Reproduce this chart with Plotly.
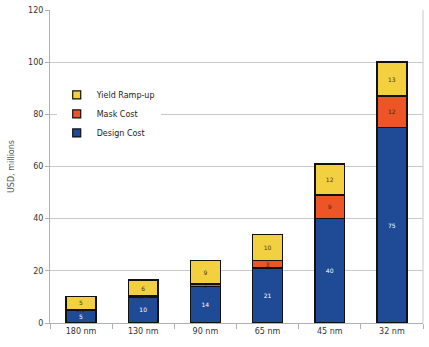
import plotly.graph_objects as go

# Process nodes and cost breakdown (USD, millions)
nodes = ["180 nm", "130 nm", "90 nm", "65 nm", "45 nm", "32 nm"]
design_cost = [5, 10, 14, 21, 40, 75]
mask_cost = [0.2, 0.4, 1, 3, 9, 12]
yield_rampup = [5, 6, 9, 10, 12, 13]

y_ticks = [0, 20, 40, 60, 80, 100, 120]

FONT = "DejaVu Sans"
series = [
    ("Design Cost", design_cost, "#1F4B96", "#ffffff"),
    ("Mask Cost", mask_cost, "#EE5526", "#3a2a10"),
    ("Yield Ramp-up", yield_rampup, "#F3D040", "#4a3a10"),
]

fig = go.Figure()
for name, vals, color, tcolor in series:
    fig.add_trace(go.Bar(
        name=name,
        x=nodes,
        y=vals,
        text=[f"{v:g}" for v in vals],
        textposition="inside",
        insidetextanchor="middle",
        textangle=0,
        constraintext="none",
        textfont=dict(size=6, color=tcolor, family=FONT),
        marker=dict(color=color, line=dict(color="#111111", width=1.5)),
        width=0.48,
        showlegend=False,
    ))

# legend keys: small outlined squares, listed top-down
for name, vals, color, tcolor in reversed(series):
    fig.add_trace(go.Scatter(
        name=name, x=[None], y=[None], mode="markers",
        marker=dict(symbol="square", size=8, color=color,
                    line=dict(color="#111111", width=1.2)),
    ))

fig.update_layout(
    barmode="stack",
    width=429,
    height=347,
    margin=dict(l=50, r=6, t=8, b=24),
    paper_bgcolor="white",
    plot_bgcolor="white",
    font=dict(family=FONT, size=8, color="#333333"),
    uniformtext=dict(minsize=6, mode="show"),
    showlegend=True,
    legend=dict(
        x=0.018, y=0.775, xanchor="left", yanchor="top",
        traceorder="normal",
        bgcolor="white",
        font=dict(size=8, color="#222222", family=FONT),
        itemwidth=30,
        tracegroupgap=0,
    ),
    xaxis=dict(
        showline=True, linecolor="#b0b0b0", linewidth=1,
        ticks="outside", tickson="boundaries", ticklen=5, tickcolor="#b0b0b0",
        mirror=False, showgrid=False,
        tickfont=dict(size=8, color="#333333"),
    ),
    yaxis=dict(
        range=[0, 120], tickvals=y_ticks,
        showline=True, linecolor="#b0b0b0", linewidth=1,
        ticks="outside", ticklen=4, tickcolor="#b0b0b0",
        showgrid=True, gridcolor="#c8c8c8", gridwidth=1,
        tickfont=dict(size=8, color="#333333"),
        title=dict(text="USD, millions", font=dict(size=8, color="#555555"), standoff=12),
        zeroline=False,
    ),
)

# right-hand frame edge
fig.add_shape(type="line", xref="paper", yref="paper", x0=1, x1=1, y0=0, y1=1,
              line=dict(color="#c8c8c8", width=1))

fig.write_html("out.html")
